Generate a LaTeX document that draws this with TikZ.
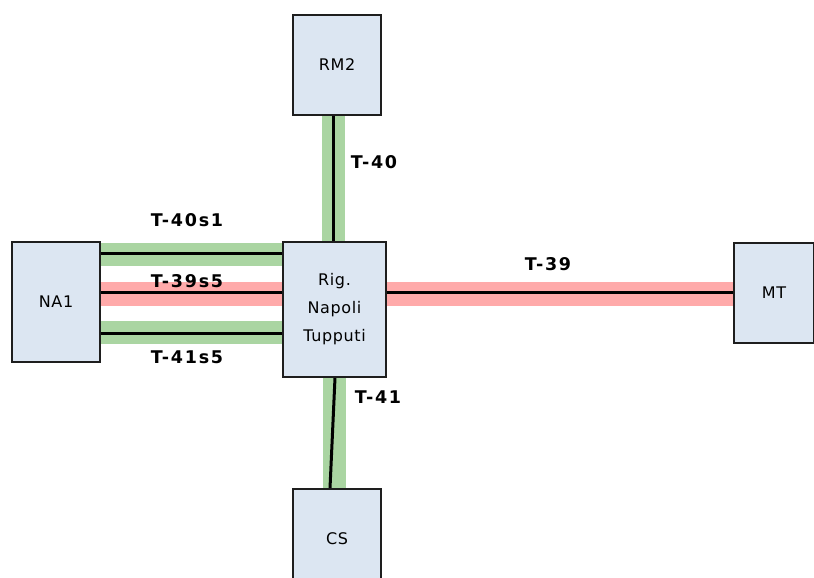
\documentclass[tikz,border=0pt]{standalone}
\usepackage{fontspec}
\setmainfont{DejaVu Sans}
\newfontfamily\lblfont[LetterSpace=10]{DejaVu Sans}
\newfontfamily\boxfont[LetterSpace=4]{DejaVu Sans}
\usetikzlibrary{backgrounds}
\definecolor{boxfill}{RGB}{220,230,242}
\definecolor{gband}{RGB}{170,213,162}
\definecolor{rband}{RGB}{255,170,170}
\definecolor{boxline}{RGB}{30,30,30}
\tikzset{
  box/.style={draw=boxline, line width=1.6pt, fill=boxfill, rectangle, inner sep=0pt,
    font=\boxfont\fontsize{16}{28}\selectfont, align=center},
  greenband/.style={draw=gband, line width=23pt},
  redband/.style={draw=rband, line width=24pt},
  wire/.style={draw=black, line width=3pt},
  lbl/.style={font=\lblfont\bfseries\fontsize{17.5}{19}\selectfont, inner sep=0pt}
}
\begin{document}
\begin{tikzpicture}[x=1pt,y=-1pt]
\useasboundingbox (0,0) rectangle (814,578);
\clip (0,0) rectangle (814,578);
\node[box, minimum width=88pt, minimum height=100pt] (rm2) at (337,65) {RM2};
\node[box, minimum width=103pt, minimum height=135pt] (hub) at (334.5,309.5) {Rig.\\Napoli\\Tupputi};
\node[box, minimum width=88pt, minimum height=120pt] (na1) at (56,302) {NA1};
\node[box, minimum width=80pt, minimum height=100pt] (mt) at (774,293) {MT};
\node[box, minimum width=88pt, minimum height=100pt] (cs) at (337,539) {CS};
\begin{pgfonlayer}{background}
  % bands
  \draw[greenband] (rm2.south -| 333.5,0) -- (hub.north -| 333.5,0);
  \draw[greenband] (hub.south -| 334,0) -- (cs.north -| 334,0);
  \draw[greenband] (na1.east |- 0,254.5) -- (hub.west |- 0,254.5);
  \draw[redband] (na1.east |- 0,294) -- (hub.west |- 0,294);
  \draw[greenband] (na1.east |- 0,332.5) -- (hub.west |- 0,332.5);
  \draw[redband] (hub.east |- 0,294) -- (mt.west |- 0,294);
  % wires
  \draw[wire] (rm2.south -| 333,0) -- (hub.north -| 333,0);
  \draw[wire] (hub.south -| 335,0) -- (cs.north -| 330,0);
  \draw[wire] (na1.east |- 0,253) -- (hub.west |- 0,253);
  \draw[wire] (na1.east |- 0,292) -- (hub.west |- 0,292);
  \draw[wire] (na1.east |- 0,333) -- (hub.west |- 0,333);
  \draw[wire] (hub.east |- 0,292) -- (mt.west |- 0,292);
\end{pgfonlayer}
\node[lbl] (t40) at (374,162) {T-40};
\node[lbl] (t40s1) at (187,220) {T-40s1};
\node[lbl] (t39s5) at (187,281) {T-39s5};
\node[lbl] (t41s5) at (187,357) {T-41s5};
\node[lbl] (t39) at (548,264) {T-39};
\node[lbl] (t41) at (378,397) {T-41};
\end{tikzpicture}
\end{document}
